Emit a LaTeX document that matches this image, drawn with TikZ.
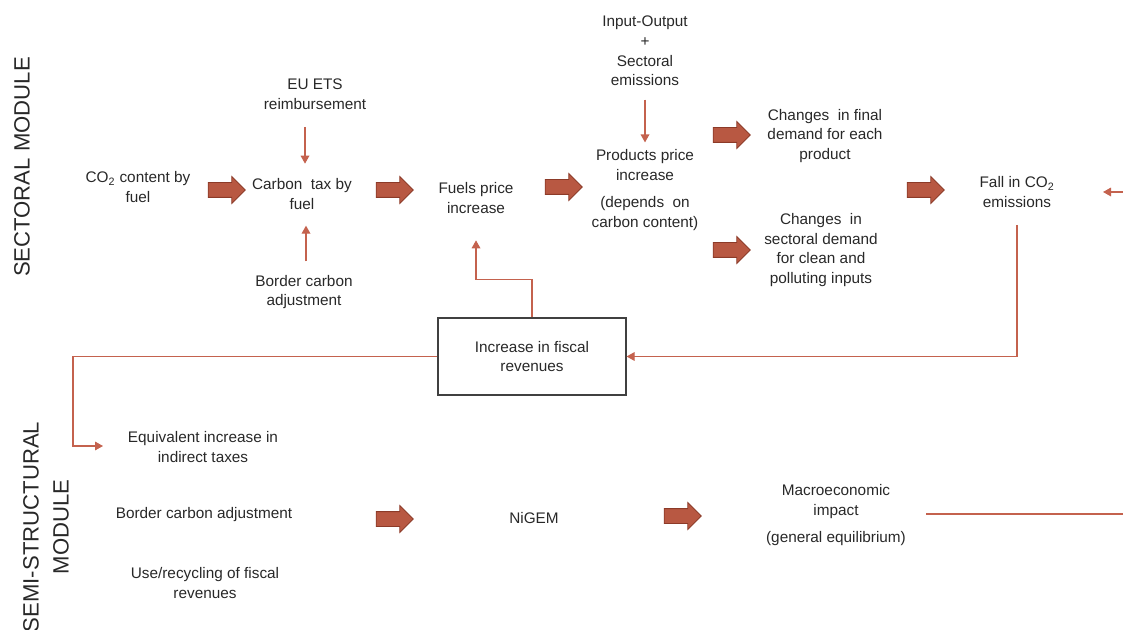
\documentclass[tikz,border=0pt]{standalone}
\usepackage{fontspec}
\setmainfont{Liberation Sans}
\usetikzlibrary{shapes.arrows,arrows.meta}

\definecolor{blockfill}{RGB}{184,88,66}
\definecolor{blockedge}{RGB}{140,58,40}
\definecolor{linkred}{RGB}{196,98,78}
\definecolor{txtgray}{RGB}{40,40,40}

\tikzset{every picture/.style={line width=0.75pt}}
\tikzset{
  txt/.style={align=center,inner sep=0.75pt,text=txtgray,font=\fontsize{11.5}{14.8}\selectfont},
  sidelabel/.style={rotate=90,align=center,inner sep=0.75pt,text=txtgray,font=\fontsize{16.6}{22.5}\selectfont},
  blockarrow/.style={single arrow,draw=blockedge,fill=blockfill,line width=0.6pt,inner sep=5.25pt,
    minimum width=19.5pt,minimum height=27.75pt,single arrow head extend=4.5pt},
  thinarrow/.style={draw=linkred,line width=0.9pt,-{Triangle[length=6pt,width=6.5pt]}},
  thinline/.style={draw=linkred,line width=0.9pt},
  fiscalbox/.style={draw=black!75,line width=0.9pt,minimum width=141pt,minimum height=57.75pt,
    align=center,text=txtgray,font=\fontsize{11.5}{14.8}\selectfont}
}

\begin{document}
\begin{tikzpicture}[x=0.75pt,y=0.75pt,yscale=-1,xscale=1]
		\useasboundingbox (0,0) rectangle (1123,630);
		
		% Module labels
		\node[sidelabel] (sectoral) at (22,167) {SECTORAL MODULE};
		\node[sidelabel] (semistruct) at (46,527) {SEMI-STRUCTURAL\\MODULE};
		
		% Text Node
		\node[txt] (co2) at (138,187) {CO\textsubscript{2} content by\\fuel};
		% Text Node
		\node[txt] (etsreimb) at (315,94) {EU ETS\\reimbursement};
		% Text Node
		\node[txt] (carbontax) at (302,194) {Carbon\ \ tax by\\fuel};
		% Text Node
		\node[txt] (bca) at (304,292) {Border carbon\\adjustment};
		% Text Node
		\node[txt] (fuels) at (476,198) {Fuels price\\increase};
		% Text Node
		\node[txt] (io) at (645,51) {Input-Output\\+\\Sectoral\\emissions};
		% Text Node
		\node[txt] (products) at (645,190) {Products price\\increase\\[6pt](depends\ \ on\\carbon content)};
		% Text Node
		\node[txt] (finaldemand) at (825,136) {Changes\ \ in final\\demand for each\\product};
		% Text Node
		\node[txt] (sectdemand) at (821,250) {Changes\ \ in\\sectoral demand\\for clean and\\polluting inputs};
		% Text Node
		\node[txt] (fallco2) at (1017,192) {Fall in CO\textsubscript{2}\\emissions};
		% Box
		\node[fiscalbox] (fiscal) at (532,356.5) {Increase in fiscal\\revenues};
		% Text Node
		\node[txt] (indirect) at (203,447) {Equivalent increase in\\indirect taxes};
		% Text Node
		\node[txt] (bca2) at (204,515) {Border carbon adjustment};
		% Text Node
		\node[txt] (recycle) at (205,583) {Use/recycling of fiscal\\revenues};
		% Text Node
		\node[txt] (nigem) at (534,518) {NiGEM};
		% Text Node
		\node[txt] (macro) at (836,515) {Macroeconomic\\impact\\[5pt](general equilibrium)};
		
		% Block arrows
		\node[blockarrow] (ba1) at (223,190) {};
		\node[blockarrow] (ba2) at (391,190) {};
		\node[blockarrow] (ba3) at (560,187) {};
		\node[blockarrow] (ba4) at (728,135) {};
		\node[blockarrow] (ba5) at (728,250) {};
		\node[blockarrow] (ba6) at (922,190) {};
		\node[blockarrow] (ba7) at (391,519) {};
		\node[blockarrow] (ba8) at (679,516) {};
		
		% Connectors
		\coordinate (bend) at (73,446);
		\coordinate (rightin) at (1123,192);
		\coordinate (rightout) at (1123,514);
		\draw[thinarrow,shorten <=12pt,shorten >=10pt] (etsreimb.south -| 305,0) -- (carbontax.north -| 305,0);
		\draw[thinarrow,shorten <=9pt,shorten >=11pt] (bca.north -| 306,0) -- (carbontax.south -| 306,0);
		\draw[thinarrow,shorten <=9pt,shorten >=4pt] (io.south) -- (products.north);
		\draw[thinarrow,shorten <=12pt] (fallco2.south) |- (fiscal.east);
		\draw[thinarrow,shorten >=19pt] (fiscal.north) -- ++(0,-38) -| (fuels.south);
		\draw[thinarrow] (fiscal.west) -| (bend) -- ++(30,0);
		\draw[thinarrow] (rightin) -- ++(-20,0);
		\draw[thinline,shorten <=14pt] (macro.east |- rightout) -- (rightout);
	\end{tikzpicture}
\end{document}
